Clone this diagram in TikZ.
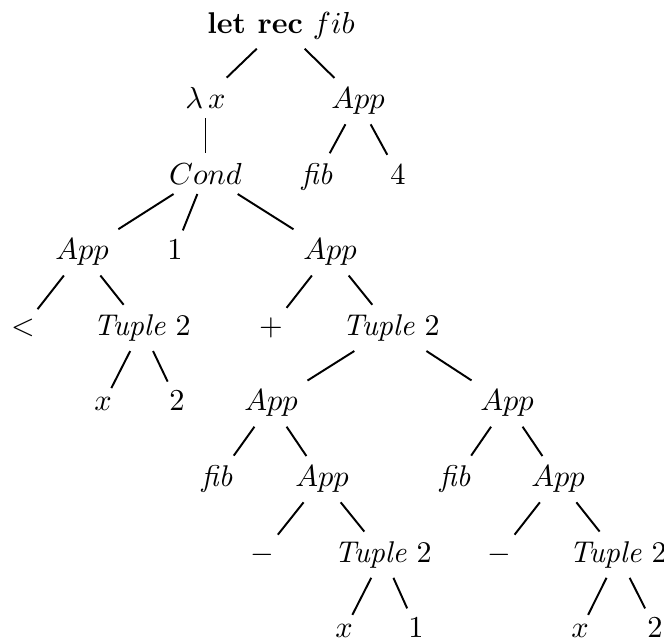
\documentclass[tikz,border=0pt]{standalone}
\usepackage{amsmath, amssymb}
\usepackage{xcolor}
\usepackage{tikz}
\usetikzlibrary{positioning, calc}

\begin{document}
\begin{tikzpicture}[
        x=0.36pt, y=-0.36pt,
        term/.style={anchor=base, inner sep=3.33pt, font=\fontsize{10.8}{13}\selectfont},
        branch/.style={line width=0.7pt, black}
    ]
        \useasboundingbox (0,0) rectangle (664,640);

        % root and first levels
        \node[term] (root) at (281,33) {\textbf{let rec} $fib$};
        \node[term] (lam) at (205.5,108.6) {$\lambda\,x$};
        \node[term] (app1) at (358,108.6) {$App$};
        \node[term] (cond) at (205.5,184.2) {$Cond$};
        \node[term] (fibA) at (317,184.2) {\textit{fib}};
        \node[term] (four) at (398,184.2) {$4$};

        % condition, then-branch, else-branch
        \node[term] (appL) at (82,259.8) {$App$};
        \node[term] (one) at (175,259.8) {$1$};
        \node[term] (appR) at (330,259.8) {$App$};
        \node[term] (lt) at (23,335.4) {$<$};
        \node[term] (tupL) at (142,335.4) {\textit{Tuple}~2};
        \node[term] (plus) at (271,335.4) {$+$};
        \node[term] (tupR) at (391,335.4) {\textit{Tuple}~2};
        \node[term] (xA) at (103,411) {$x$};
        \node[term] (twoA) at (177,411) {$2$};

        % fib (x - 1)
        \node[term] (appRL) at (271,411) {$App$};
        \node[term] (fibB) at (217,486.6) {\textit{fib}};
        \node[term] (appB) at (322,486.6) {$App$};
        \node[term] (minB) at (262,562.2) {$-$};
        \node[term] (tupB) at (383,562.2) {\textit{Tuple}~2};
        \node[term] (xB) at (344,637.8) {$x$};
        \node[term] (oneB) at (416,637.8) {$1$};

        % fib (x - 2)
        \node[term] (appRR) at (507,411) {$App$};
        \node[term] (fibC) at (455,486.6) {\textit{fib}};
        \node[term] (appC) at (558,486.6) {$App$};
        \node[term] (minC) at (499,562.2) {$-$};
        \node[term] (tupC) at (618,562.2) {\textit{Tuple}~2};
        \node[term] (xC) at (580,637.8) {$x$};
        \node[term] (twoC) at (655,637.8) {$2$};

        % edges
        \draw[branch] (root) -- (lam);
        \draw[branch] (root) -- (app1);
        \draw[branch] (lam) -- (cond);
        \draw[branch] (app1) -- (fibA);
        \draw[branch] (app1) -- (four);
        \draw[branch] (cond) -- (appL);
        \draw[branch] (cond) -- (one);
        \draw[branch] (cond) -- (appR);
        \draw[branch] (appL) -- (lt);
        \draw[branch] (appL) -- (tupL);
        \draw[branch] (tupL) -- (xA);
        \draw[branch] (tupL) -- (twoA);
        \draw[branch] (appR) -- (plus);
        \draw[branch] (appR) -- (tupR);
        \draw[branch] (tupR) -- (appRL);
        \draw[branch] (tupR) -- (appRR);
        \draw[branch] (appRL) -- (fibB);
        \draw[branch] (appRL) -- (appB);
        \draw[branch] (appB) -- (minB);
        \draw[branch] (appB) -- (tupB);
        \draw[branch] (tupB) -- (xB);
        \draw[branch] (tupB) -- (oneB);
        \draw[branch] (appRR) -- (fibC);
        \draw[branch] (appRR) -- (appC);
        \draw[branch] (appC) -- (minC);
        \draw[branch] (appC) -- (tupC);
        \draw[branch] (tupC) -- (xC);
        \draw[branch] (tupC) -- (twoC);
    \end{tikzpicture}
\end{document}
